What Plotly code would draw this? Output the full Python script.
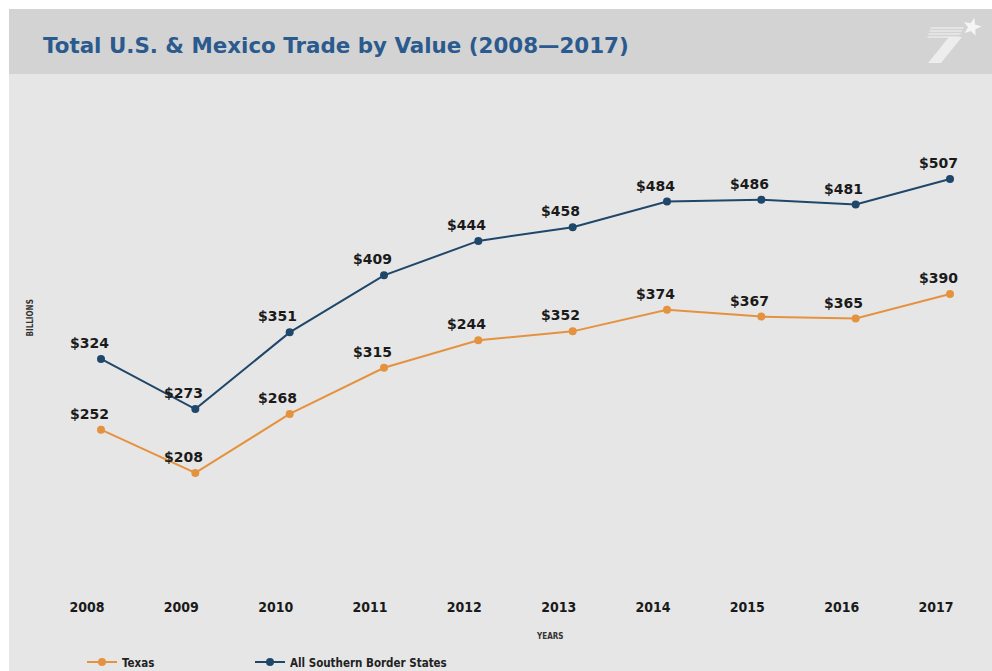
import math
import plotly.graph_objects as go

# ---------------- data ----------------
years = [2008, 2009, 2010, 2011, 2012, 2013, 2014, 2015, 2016, 2017]
year_labels = [str(y) for y in years]
texas = [252, 208, 268, 315, 343, 352, 374, 367, 365, 390]
texas_labels = ["$252", "$208", "$268", "$315", "$244", "$352", "$374", "$367", "$365", "$390"]
southern = [324, 273, 351, 409, 444, 458, 484, 486, 481, 507]
southern_labels = ["$" + str(v) for v in southern]
series_names = ["Texas", "All Southern Border States"]

# ---------------- layout constants ----------------
W, H = 992, 671
ML, MR, MT, MB = 55, 20, 80, 81
PW, PH = W - ML - MR, H - MT - MB

TEXAS_COLOR = "#e5923f"
SOUTH_COLOR = "#1f4769"
TITLE_COLOR = "#2a5a8e"
BODY_BG = "#e6e6e6"
HEADER_BG = "#d3d3d3"

BOLD = "DejaVu Sans, Liberation Sans, sans-serif"
COND = "DejaVu Sans Condensed, Liberation Sans Narrow, DejaVu Sans, sans-serif"


def px(x):
    return (x - ML) / PW


def py(y):
    return 1 - (y - MT) / PH


# axis ranges derived from plot geometry
x_first_px, x_last_px = 101, 950
f0, f1 = px(x_first_px), px(x_last_px)
span = (years[-1] - years[0]) / (f1 - f0)
x0 = years[0] - f0 * span
x1 = x0 + span

unit_px = 0.983  # pixels per billion
ref_v, ref_py = 507, 179
y_top = ref_v + (ref_py - MT) / unit_px
y_bot = ref_v - (MT + PH - ref_py) / unit_px

fig = go.Figure()
fig.add_trace(go.Scatter(
    x=years, y=texas, name=series_names[0], mode="lines+markers", legend="legend",
    line=dict(color=TEXAS_COLOR, width=2), marker=dict(color=TEXAS_COLOR, size=8),
    hoverinfo="skip"))
fig.add_trace(go.Scatter(
    x=years, y=southern, name=series_names[1], mode="lines+markers", legend="legend2",
    line=dict(color=SOUTH_COLOR, width=2), marker=dict(color=SOUTH_COLOR, size=8),
    hoverinfo="skip"))

annotations = []
for xs, vals, labs in [(years, texas, texas_labels), (years, southern, southern_labels)]:
    for xv, yv, t in zip(xs, vals, labs):
        annotations.append(dict(
            x=xv, y=yv, xref="x", yref="y", text=t, showarrow=False,
            xshift=-12, yshift=16, yanchor="middle", xanchor="center",
            font=dict(family=BOLD, size=14, color="#1a1a1a", weight="bold")))

# title
annotations.append(dict(
    x=px(41), y=py(45), xref="paper", yref="paper", xanchor="left", yanchor="middle",
    text="Total U.S. &amp; Mexico Trade by Value (2008\u20142017)", showarrow=False,
    font=dict(family=BOLD, size=21.4, color=TITLE_COLOR, weight="bold")))
# axis titles
annotations.append(dict(
    x=px(29.5), y=py(318), xref="paper", yref="paper", text="BILLIONS", textangle=-90,
    showarrow=False, xanchor="center", yanchor="middle",
    font=dict(family=COND, size=8, color="#333333", weight="bold")))
annotations.append(dict(
    x=px(549), y=py(636), xref="paper", yref="paper", text="YEARS",
    showarrow=False, xanchor="center", yanchor="middle",
    font=dict(family=COND, size=8, color="#333333", weight="bold")))

shapes = []
# white outer border (top and left) and header band
shapes.append(dict(type="rect", xref="paper", yref="paper", x0=px(0), x1=px(W), y0=py(0), y1=py(9),
                   fillcolor="white", line=dict(width=0), layer="below"))
shapes.append(dict(type="rect", xref="paper", yref="paper", x0=px(0), x1=px(9), y0=py(0), y1=py(H),
                   fillcolor="white", line=dict(width=0), layer="below"))
shapes.append(dict(type="rect", xref="paper", yref="paper", x0=px(9), x1=px(W), y0=py(9), y1=py(74),
                   fillcolor=HEADER_BG, line=dict(width=0), layer="below"))


def path(points):
    return "M " + " L ".join(f"{px(a):.5f},{py(b):.5f}" for a, b in points) + " Z"


# logo: stripes, slanted stem, star
for i, yy in enumerate([27, 30, 33, 36]):
    shapes.append(dict(type="path", xref="paper", yref="paper",
                       path=path([(931 - i, yy), (964 - i * 1.5, yy), (963 - i * 1.5, yy + 2), (930 - i, yy + 2)]),
                       fillcolor="#e4e4e4", line=dict(width=0)))
shapes.append(dict(type="path", xref="paper", yref="paper",
                   path=path([(949, 37), (962, 37), (941, 63), (928, 63)]),
                   fillcolor="#ededed", line=dict(width=0)))
star = []
cx, cy, ro, ri = 972, 27, 9.5, 4
for k in range(10):
    ang = -math.pi / 2 + k * math.pi / 5 + 0.25
    r = ro if k % 2 == 0 else ri
    star.append((cx + r * math.cos(ang), cy + r * math.sin(ang)))
shapes.append(dict(type="path", xref="paper", yref="paper", path=path(star),
                   fillcolor="#f5f5f5", line=dict(width=0)))

legend_font = dict(family=COND, size=11.5, color="#222222", weight="bold")
fig.update_layout(
    width=W, height=H,
    margin=dict(l=ML, r=MR, t=MT, b=MB, autoexpand=False),
    paper_bgcolor=BODY_BG, plot_bgcolor=BODY_BG,
    showlegend=True,
    legend=dict(orientation="h", x=px(82), y=py(662), xanchor="left", yanchor="middle",
                bgcolor="rgba(0,0,0,0)", font=legend_font, itemclick=False),
    legend2=dict(orientation="h", x=px(250), y=py(662), xanchor="left", yanchor="middle",
                 bgcolor="rgba(0,0,0,0)", font=legend_font, itemclick=False),
    xaxis=dict(range=[x0, x1], tickvals=years, ticktext=year_labels, showgrid=False, zeroline=False,
               showline=False, ticks="", ticklabelshift=-14, ticklabelstandoff=7,
               tickfont=dict(family=COND, size=14, color="#1a1a1a", weight="bold")),
    yaxis=dict(range=[y_bot, y_top], visible=False, showgrid=False, zeroline=False),
    annotations=annotations, shapes=shapes,
)

fig.write_html("out.html")
